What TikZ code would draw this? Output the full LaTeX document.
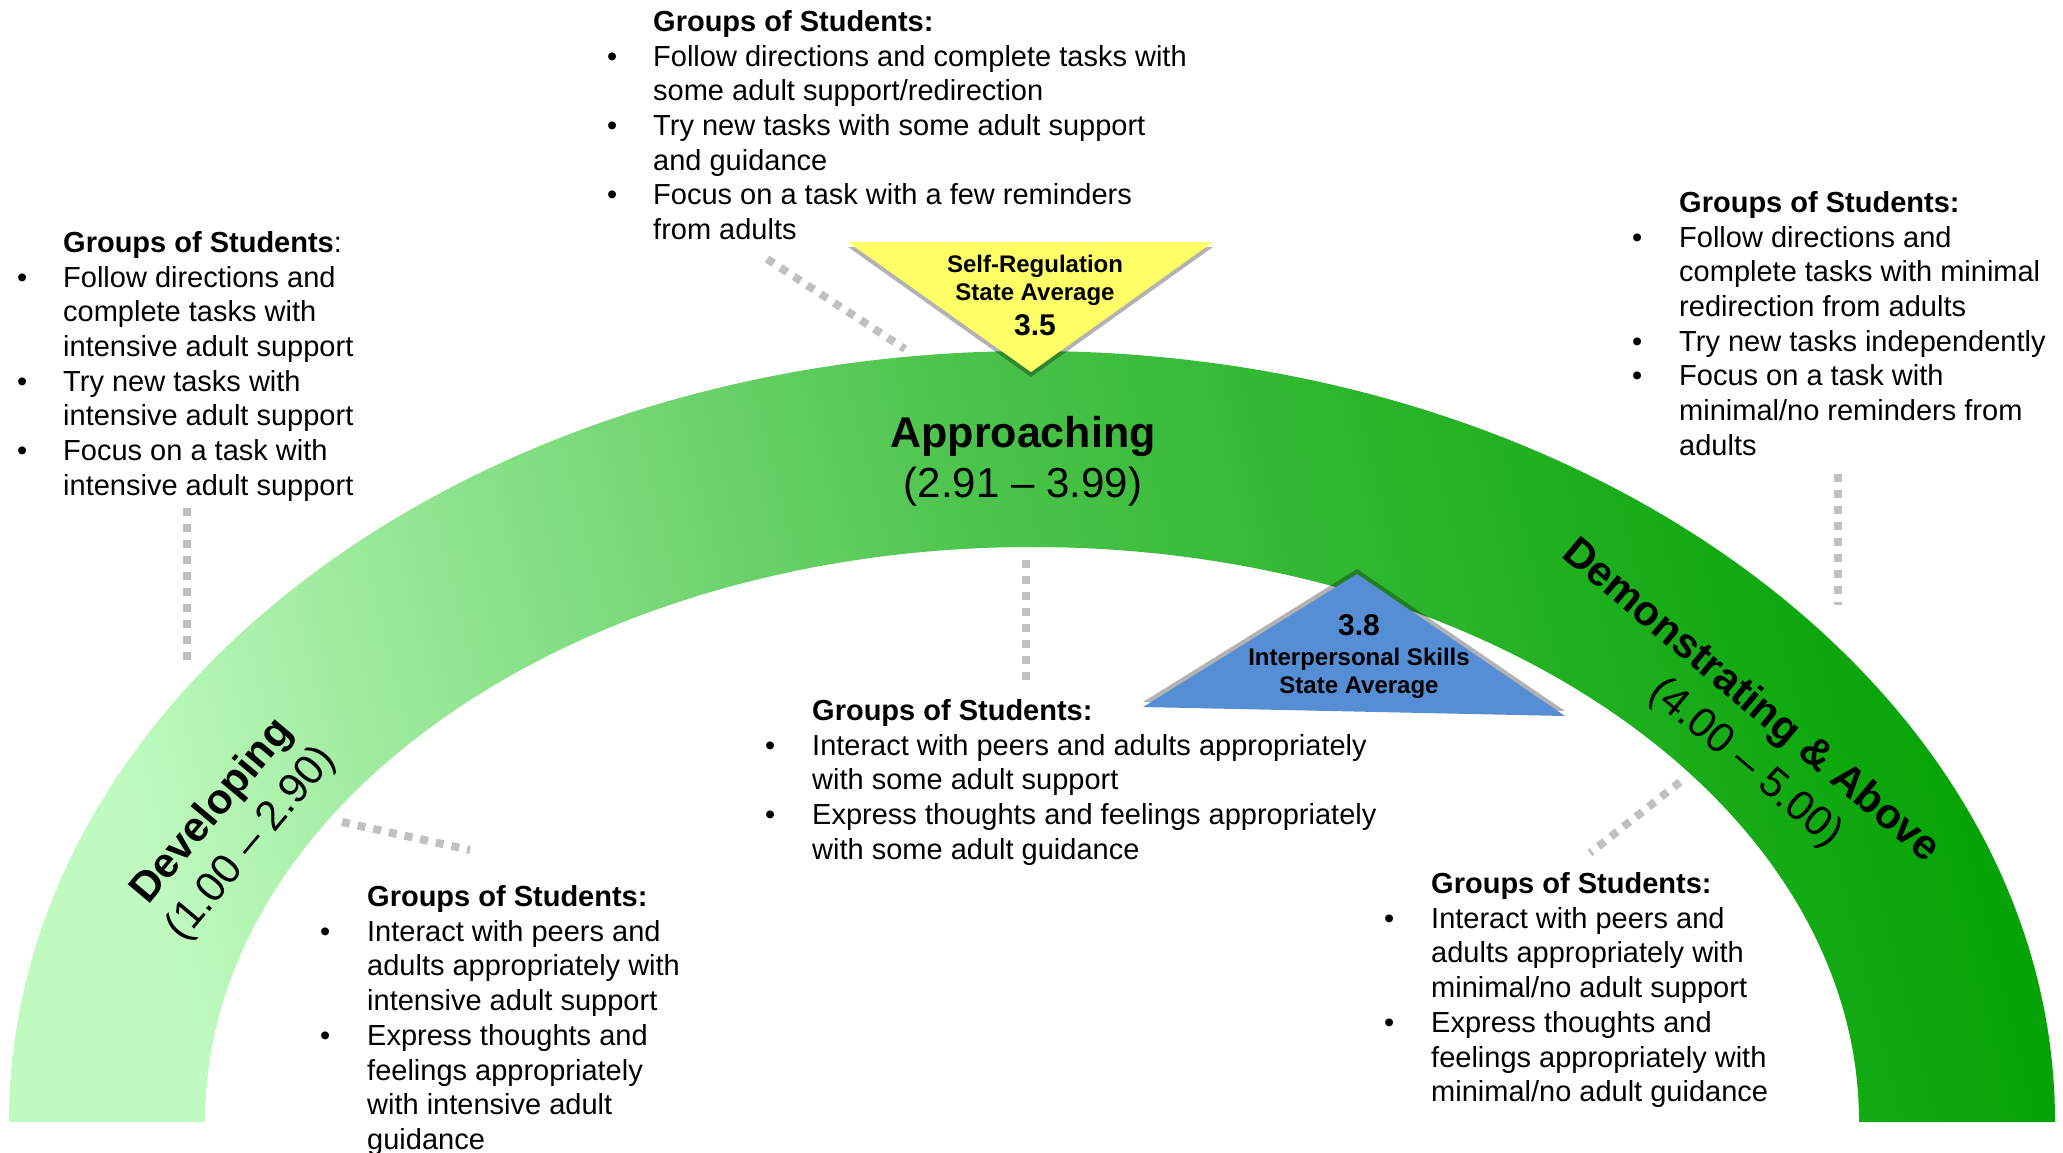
\documentclass[tikz,border=0pt]{standalone}
\usepackage{fontspec}
\setmainfont{Liberation Sans}
\usepackage{tikz}

\definecolor{archlight}{RGB}{192,250,192}
\definecolor{archmid}{RGB}{76,196,76}
\definecolor{archdark}{RGB}{5,163,5}
\definecolor{leadgray}{RGB}{192,192,192}
\definecolor{srfill}{RGB}{255,255,102}
\definecolor{ipfill}{RGB}{85,142,213}

\newcommand{\grouptab}[2]{\begin{tabular}{@{}p{#1}@{}l@{}}#2\end{tabular}}

\begin{document}
\begin{tikzpicture}[x=1pt,y=-1pt,
	grp/.style={anchor=north west,inner sep=0pt,font=\fontsize{29}{34.7}\selectfont},
	lead/.style={draw=leadgray,line width=8pt,dash pattern=on 8pt off 8pt},
	band/.style={inner sep=0pt,align=center,font=\fontsize{42}{51}\selectfont},
	tri/.style={inner sep=0pt,anchor=base,font=\bfseries\fontsize{24}{28}\selectfont},
	trival/.style={tri,font=\bfseries\fontsize{30}{34}\selectfont},
	trishadow/.style={fill=black,opacity=0.3}]

	\useasboundingbox (0,0) rectangle (2063,1152);

	\shade[left color=archlight,right color=archdark,middle color=archmid,shading angle=104]
		(9,1122) arc[start angle=180,end angle=360,x radius=1023,y radius=771]
		-- (1859,1122) arc[start angle=0,end angle=-180,x radius=827,y radius=575] -- cycle;

	\fill[trishadow] (848,247) -- (1213,247) -- (1031,377) -- cycle;
	\fill[srfill] (848,242) -- (1213,242) -- (1031,372) -- cycle;
	\fill[trishadow] (1143,702) -- (1357,569) -- (1565,711) -- cycle;
	\fill[ipfill] (1143,707) -- (1357,574) -- (1565,716) -- cycle;

	\node[tri] (sr1) at (1035,272) {Self-Regulation};
	\node[tri] (sr2) at (1035,300) {State Average};
	\node[trival] (srval) at (1035,335) {3.5};
	\node[trival] (ipval) at (1359,635) {3.8};
	\node[tri] (ip1) at (1359,665) {Interpersonal Skills};
	\node[tri] (ip2) at (1359,693) {State Average};

	\node[anchor=base,font=\bfseries\fontsize{43}{51}\selectfont] (appr) at (1023,447) {Approaching};
	\node[anchor=base,font=\fontsize{42}{51}\selectfont] (apprrange) at (1023,497) {(2.91 – 3.99)};
	\node[band,rotate=50] (dev) at (232,828) {\textbf{Developing}\\(1.00 – 2.90)};
	\node[band,rotate=-40] (dem) at (1734,721) {\textbf{Demonstrating \& Above}\\\hspace*{72pt}(4.00 – 5.00)};

	\node[grp] (topgrp) at (607,7) {\grouptab{46pt}{
		& \textbf{Groups of Students:}\\
		\textbullet & Follow directions and complete tasks with\\
		& some adult support/redirection\\
		\textbullet & Try new tasks with some adult support\\
		& and guidance\\
		\textbullet & Focus on a task with a few reminders\\
		& from adults}};
	\node[grp] (devgrp) at (17,228) {\grouptab{46pt}{
		& \textbf{Groups of Students}:\\
		\textbullet & Follow directions and\\
		& complete tasks with\\
		& intensive adult support\\
		\textbullet & Try new tasks with\\
		& intensive adult support\\
		\textbullet & Focus on a task with\\
		& intensive adult support}};
	\node[grp] (demgrp) at (1632,188) {\grouptab{47pt}{
		& \textbf{Groups of Students:}\\
		\textbullet & Follow directions and\\
		& complete tasks with minimal\\
		& redirection from adults\\
		\textbullet & Try new tasks independently\\
		\textbullet & Focus on a task with\\
		& minimal/no reminders from\\
		& adults}};
	\node[grp] (midgrp) at (765,696) {\grouptab{47pt}{
		& \textbf{Groups of Students:}\\
		\textbullet & Interact with peers and adults appropriately\\
		& with some adult support\\
		\textbullet & Express thoughts and feelings appropriately\\
		& with some adult guidance}};
	\node[grp] (devgrpb) at (320,882) {\grouptab{47pt}{
		& \textbf{Groups of Students:}\\
		\textbullet & Interact with peers and\\
		& adults appropriately with\\
		& intensive adult support\\
		\textbullet & Express thoughts and\\
		& feelings appropriately\\
		& with intensive adult\\
		& guidance}};
	\node[grp] (demgrpb) at (1384,869) {\grouptab{47pt}{
		& \textbf{Groups of Students:}\\
		\textbullet & Interact with peers and\\
		& adults appropriately with\\
		& minimal/no adult support\\
		\textbullet & Express thoughts and\\
		& feelings appropriately with\\
		& minimal/no adult guidance}};

	\coordinate (devA) at (187,508);
	\coordinate (devB) at (187,660);
	\coordinate (topA) at (767,259);
	\coordinate (topB) at (905,349);
	\coordinate (midA) at (1026,560);
	\coordinate (midB) at (1026,680);
	\coordinate (demA) at (1838,474);
	\coordinate (demB) at (1838,605);
	\coordinate (devbA) at (342,822);
	\coordinate (devbB) at (470,850);
	\coordinate (dembA) at (1680,782);
	\coordinate (dembB) at (1590,853);

	\draw[lead] (devA) -- (devB);
	\draw[lead] (topA) -- (topB);
	\draw[lead] (midA) -- (midB);
	\draw[lead] (demA) -- (demB);
	\draw[lead] (devbA) -- (devbB);
	\draw[lead] (dembA) -- (dembB);

\end{tikzpicture}
\end{document}
